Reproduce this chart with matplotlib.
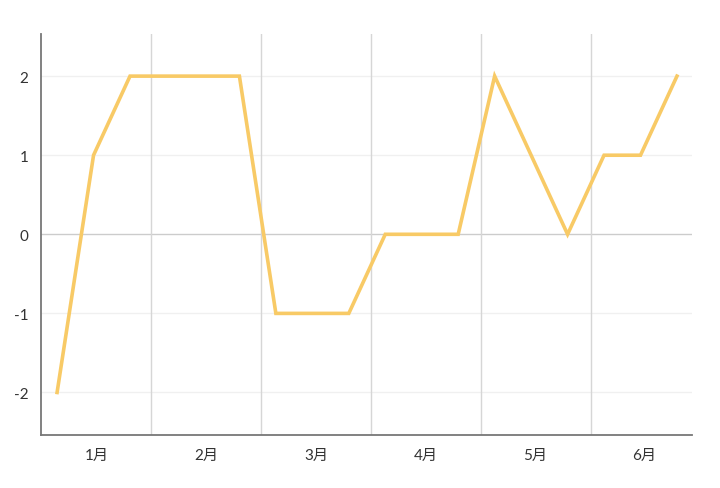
import numpy as np
import matplotlib
matplotlib.use("Agg")
import matplotlib.pyplot as plt

plt.rcParams['font.family'] = ['Lato', 'Noto Sans CJK SC', 'DejaVu Sans']

# 3 points per month
values = [-2, 1, 2, 2, 2, 2, -1, -1, -1, 0, 0, 0, 2, 1, 0, 1, 1, 2]
months = ["1月", "2月", "3月", "4月", "5月", "6月"]
y_ticks = [-2, -1, 0, 1, 2]

x = np.arange(len(values))
month_centers = 1.1 + 3 * np.arange(len(months))
month_edges = 2.58 + 3.015 * np.arange(len(months) - 1)

fig = plt.figure(figsize=(7.2, 4.89), dpi=100)
ax = fig.add_axes([0.057, 0.108, 0.904, 0.820])

for yv in y_ticks:
    if yv == 0:
        ax.axhline(yv, color="#cccccc", lw=1.0, zorder=1)
    else:
        ax.axhline(yv, color="#f0f0f0", lw=1.0, zorder=1)
for xe in month_edges:
    ax.axvline(xe, color="#d6d6d6", lw=1.0, zorder=1)

ax.plot(x, values, color="#f8ca66", lw=2.6, solid_joinstyle="miter", zorder=3)

ax.set_xlim(-0.44, 17.41)
ax.set_ylim(-2.54, 2.53)
ax.set_yticks(y_ticks)
ax.set_yticklabels([str(v) for v in y_ticks])
ax.set_xticks(month_centers)
ax.set_xticklabels(months)
ax.tick_params(axis="both", length=0, labelsize=11, colors="#333333")
ax.tick_params(axis="y", pad=9)
ax.tick_params(axis="x", pad=9)

for s in ["top", "right"]:
    ax.spines[s].set_visible(False)
for s in ["left", "bottom"]:
    ax.spines[s].set_color("#777777")
    ax.spines[s].set_linewidth(1.3)

fig.savefig("out.png", dpi=100)
